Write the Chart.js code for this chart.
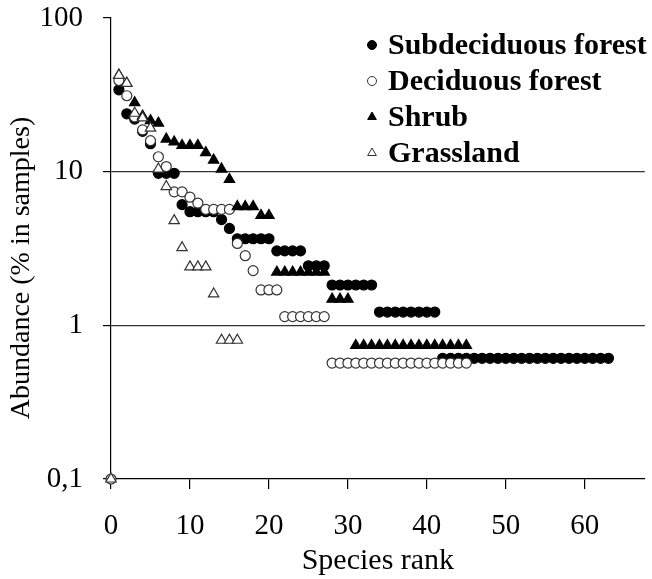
<!DOCTYPE html>
<html>
<head>
<meta charset="utf-8">
<script src="https://cdn.jsdelivr.net/npm/chart.js@4.4.0/dist/chart.umd.min.js"></script>
<style>
  html, body { margin: 0; padding: 0; background: #fff; }
  #wrap { width: 652px; height: 579px; }
</style>
</head>
<body>
<div id="wrap"><canvas id="abundancia"></canvas></div>
<script>
// Species rank-abundance, values (% in samples)
const seriesNames = ['Subdeciduous forest', 'Deciduous forest', 'Shrub', 'Grassland'];

// ranks 1..63
const subdeciduousValues = [
    34.1, 23.8, 22.0, 18.3, 15.2, 9.76, 9.76, 9.76, 6.10, 5.49, 5.49, 5.49, 5.49, 4.88, 4.27,
    3.66, 3.66, 3.66, 3.66, 3.66, 3.05, 3.05, 3.05, 3.05, 2.44, 2.44, 2.44,
    1.83, 1.83, 1.83, 1.83, 1.83, 1.83,
    1.22, 1.22, 1.22, 1.22, 1.22, 1.22, 1.22, 1.22,
    0.61, 0.61, 0.61, 0.61, 0.61, 0.61, 0.61, 0.61, 0.61, 0.61, 0.61,
    0.61, 0.61, 0.61, 0.61, 0.61, 0.61, 0.61, 0.61, 0.61, 0.61, 0.61
];
// ranks 0..45
const deciduousValues = [
    0.1, 39.2, 31.2, 22.7, 18.7, 15.9, 12.5, 10.8, 7.39, 7.39, 6.82, 6.25, 5.68, 5.68, 5.68, 5.68,
    3.41, 2.84, 2.27, 1.70, 1.70, 1.70, 1.14, 1.14, 1.14, 1.14, 1.14, 1.14,
    0.568, 0.568, 0.568, 0.568, 0.568, 0.568, 0.568, 0.568, 0.568,
    0.568, 0.568, 0.568, 0.568, 0.568, 0.568, 0.568, 0.568, 0.568
];
// ranks 1..45
const shrubValues = [
    42.4, 37.6, 28.1, 23.0, 21.5, 20.7, 16.3, 15.6, 14.8, 14.8, 14.8, 13.3, 11.9, 10.4, 8.89,
    5.93, 5.93, 5.93, 5.19, 5.19,
    2.22, 2.22, 2.22, 2.22, 2.22, 2.22, 2.22,
    1.48, 1.48, 1.48,
    0.74, 0.74, 0.74, 0.74, 0.74, 0.74, 0.74, 0.74, 0.74, 0.74, 0.74, 0.74, 0.74, 0.74, 0.74
];
// ranks 0..16
const grasslandValues = [0.1, 42.4, 37.6, 24.0, 22.4, 19.2, 10.4, 8.0, 4.8, 3.2, 2.4, 2.4, 2.4, 1.6, 0.8, 0.8, 0.8];

const yTickValues = [0.1, 1, 10, 100];
const xTickValues = [0, 10, 20, 30, 40, 50, 60];

function toPoints(values, firstRank) {
    return values.map((v, i) => ({ x: firstRank + i, y: v }));
}

const fonte = '"Liberation Serif", "Times New Roman", serif';
Chart.defaults.font.family = fonte;
Chart.defaults.color = '#000';

const estilos = [
    { pointStyle: 'circle', radius: 5, fill: '#000', stroke: '#000' },
    { pointStyle: 'circle', radius: 5, fill: '#fff', stroke: '#333' },
    { pointStyle: 'triangle', radius: 6, fill: '#000', stroke: '#000' },
    { pointStyle: 'triangle', radius: 6, fill: '#fff', stroke: '#333' }
];

function desenhaMarcador(ctx, est, x, y, r) {
    ctx.beginPath();
    if (est.pointStyle === 'circle') {
        ctx.arc(x, y, r, 0, Math.PI * 2);
    } else {
        ctx.moveTo(x, y - r);
        ctx.lineTo(x + r * 0.866, y + r * 0.5);
        ctx.lineTo(x - r * 0.866, y + r * 0.5);
        ctx.closePath();
    }
    ctx.fillStyle = est.fill;
    ctx.fill();
    ctx.lineWidth = 1;
    ctx.strokeStyle = est.stroke;
    ctx.stroke();
}

// legenda no canto superior direito + titulo do eixo y (centrado como no original)
const legendaPlugin = {
    id: 'legenda',
    afterDraw(chart) {
        const ctx = chart.ctx;
        ctx.save();
        ctx.font = 'bold 30px ' + fonte;
        ctx.textBaseline = 'middle';
        chart.data.datasets.forEach((ds, i) => {
            const y = 45 + i * 36;
            desenhaMarcador(ctx, estilos[i], 372, y, estilos[i].pointStyle === 'circle' ? 4.5 : 5);
            ctx.fillStyle = '#000';
            ctx.fillText(ds.label, 388, y + 1);
        });

        ctx.translate(22, 268);
        ctx.rotate(-Math.PI / 2);
        ctx.font = '28px ' + fonte;
        ctx.textAlign = 'center';
        ctx.fillText('Abundance (% in samples)', 0, 0);
        ctx.restore();
    }
};

const datasets = [
    toPoints(subdeciduousValues, 1),
    toPoints(deciduousValues, 0),
    toPoints(shrubValues, 1),
    toPoints(grasslandValues, 0)
].map((pts, i) => ({
    label: seriesNames[i],
    data: pts,
    pointStyle: estilos[i].pointStyle,
    pointRadius: estilos[i].radius,
    backgroundColor: estilos[i].fill,
    borderColor: estilos[i].stroke,
    borderWidth: 1.2,
    showLine: false,
    clip: false,
    order: 4 - i
}));

const ctx = document.getElementById('abundancia').getContext('2d');
new Chart(ctx, {
    type: 'scatter',
    data: { datasets: datasets },
    options: {
        responsive: true,
        maintainAspectRatio: false,
        animation: false,
        devicePixelRatio: 1,
        layout: { padding: { top: 18, right: 0, left: 0, bottom: 0 } },
        plugins: {
            legend: { display: false },
            tooltip: { enabled: false }
        },
        scales: {
            x: {
                type: 'linear',
                min: 0,
                max: 67.6,
                afterBuildTicks: scale => { scale.ticks = xTickValues.map(v => ({ value: v })); },
                afterFit: scale => {
                    scale.height = 100;
                    scale.paddingLeft = 0;
                    scale.paddingRight = 0;
                },
                grid: { drawOnChartArea: false, tickLength: 10, tickColor: '#000', lineWidth: 1.2 },
                border: { color: '#000', width: 1.2 },
                ticks: { font: { size: 29 }, padding: 20, maxRotation: 0 },
                title: { display: true, text: 'Species rank', font: { size: 30 }, padding: { top: 0, bottom: 0 } }
            },
            y: {
                type: 'logarithmic',
                min: 0.1,
                max: 100,
                afterBuildTicks: scale => { scale.ticks = yTickValues.map(v => ({ value: v })); },
                afterFit: scale => {
                    scale.width = 111;
                    scale.paddingTop = 0;
                    scale.paddingBottom = 0;
                },
                grid: {
                    color: c => (c.tick && (c.tick.value === 1 || c.tick.value === 10)) ? '#333' : 'rgba(0,0,0,0)',
                    tickColor: '#000',
                    tickLength: 8,
                    lineWidth: 1.2
                },
                border: { color: '#000', width: 1.2 },
                ticks: {
                    font: { size: 29 },
                    padding: 20,
                    callback: v => v === 0.1 ? '0,1' : String(v)
                },
                title: { display: false }
            }
        }
    },
    plugins: [legendaPlugin]
});
</script>
</body>
</html>
